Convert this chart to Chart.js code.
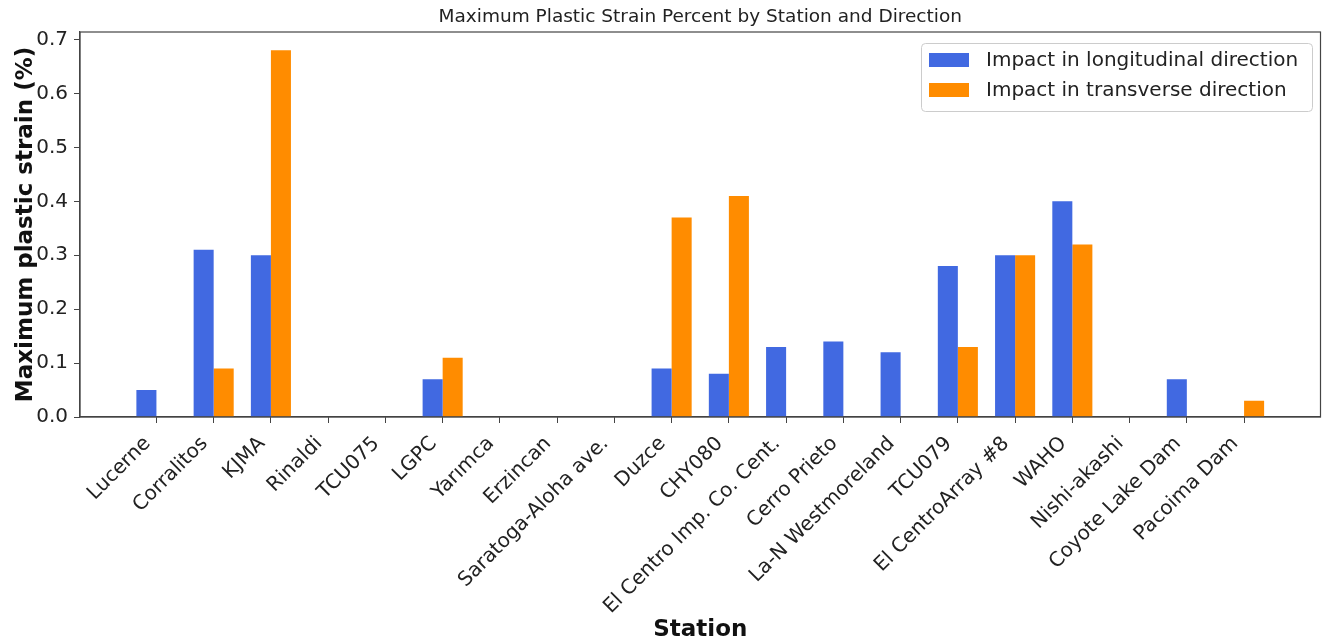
<!DOCTYPE html>
<html>
<head>
<meta charset="utf-8">
<script src="https://cdn.jsdelivr.net/npm/chart.js@4.4.1/dist/chart.umd.min.js"></script>
<style>
  body { margin: 0; background: #fff; }
  #wrap { width: 1325px; height: 644px; }
</style>
</head>
<body>
<div id="wrap"><canvas id="bar-chart" width="1325" height="644"></canvas></div>
<script>
const stations = ["Lucerne", "Corralitos", "KJMA", "Rinaldi", "TCU075", "LGPC", "Yarımca", "Erzincan",
    "Saratoga-Aloha ave.", "Duzce", "CHY080", "El Centro Imp. Co. Cent.", "Cerro Prieto",
    "La-N Westmoreland", "TCU079", "El CentroArray #8", "WAHO", "Nishi-akashi", "Coyote Lake Dam", "Pacoima Dam"];
const longitudinal = [0.05, 0.31, 0.30, 0, 0, 0.07, 0, 0, 0, 0.09, 0.08, 0.13, 0.14, 0.12, 0.28, 0.30, 0.40, 0, 0.07, 0];
const transverse   = [0, 0.09, 0.68, 0, 0, 0.11, 0, 0, 0, 0.37, 0.41, 0, 0, 0, 0.13, 0.30, 0.32, 0, 0, 0.03];
const yTicks = [0, 0.1, 0.2, 0.3, 0.4, 0.5, 0.6, 0.7];

const FONT = "'DejaVu Sans', 'Liberation Sans', sans-serif";

// axes frame (matplotlib style spines)
const framePlugin = {
    id: 'frame',
    afterDatasetsDraw(chart) {
        const {ctx, chartArea: a} = chart;
        ctx.save();
        ctx.strokeStyle = '#444';
        ctx.lineWidth = 1.2;
        ctx.strokeRect(a.left, a.top, a.right - a.left, a.bottom - a.top);
        ctx.restore();
    }
};

// nudge rotated x labels so the text end sits like matplotlib's ha='right'
const labelNudge = {
    id: 'labelNudge',
    afterLayout(chart) {
        const s = chart.scales.x;
        if (s._nudged) return;
        const orig = s.drawLabels.bind(s);
        s.drawLabels = (area) => {
            s.ctx.save();
            s.ctx.translate(-9, 5);
            orig(area);
            s.ctx.restore();
        };
        s._nudged = true;
    }
};

// legend box drawn inside the plot, upper right
const boxLegend = {
    id: 'boxLegend',
    afterDraw(chart) {
        const ctx = chart.ctx;
        const x = 921, y = 43, w = 391, h = 68;
        ctx.save();
        ctx.fillStyle = 'rgba(255,255,255,0.8)';
        ctx.strokeStyle = '#cccccc';
        ctx.lineWidth = 1;
        ctx.beginPath();
        ctx.roundRect(x + 0.5, y + 0.5, w, h, 4);
        ctx.fill();
        ctx.stroke();
        ctx.font = "20px " + FONT;
        ctx.textBaseline = 'middle';
        chart.data.datasets.forEach((ds, i) => {
            const cy = 60 + i * 30;
            ctx.fillStyle = ds.backgroundColor;
            ctx.fillRect(929, cy - 7, 40, 14);
            ctx.fillStyle = '#222';
            ctx.fillText(ds.label, 986, cy + 1);
        });
        ctx.restore();
    }
};

new Chart(document.getElementById("bar-chart"), {
    type: 'bar',
    data: {
        datasets: [{
            label: "Impact in longitudinal direction",
            data: longitudinal.map((v, i) => ({x: i, y: v})),
            backgroundColor: "#4169E1"
        }, {
            label: "Impact in transverse direction",
            data: transverse.map((v, i) => ({x: i, y: v})),
            backgroundColor: "#FF8C00"
        }]
    },
    options: {
        responsive: false,
        animation: false,
        layout: { padding: { left: 0, right: 4.5, top: 0, bottom: 0 } },
        datasets: { bar: { barPercentage: 1.0, categoryPercentage: 0.7 } },
        plugins: {
            legend: { display: false },
            tooltip: { enabled: false },
            title: {
                display: true,
                text: 'Maximum Plastic Strain Percent by Station and Direction',
                fullSize: false,
                color: '#222',
                font: { family: FONT, size: 18.5, weight: 'normal' },
                padding: { top: 6, bottom: 3.8 }
            }
        },
        scales: {
            x: {
                type: 'linear',
                offset: false,
                min: -1.335,
                max: 20.335,
                afterBuildTicks: s => { s.ticks = stations.map((_, i) => ({value: i})); },
                afterFit: s => { s.height = 227; },
                grid: { offset: false, drawOnChartArea: false, drawTicks: true, tickLength: 6, color: '#444' },
                border: { color: '#444', width: 1.2 },
                ticks: {
                    autoSkip: false,
                    maxRotation: 45,
                    minRotation: 45,
                    padding: 4,
                    color: '#222',
                    font: { family: FONT, size: 20 },
                    callback: v => stations[v]
                },
                title: {
                    display: true,
                    text: 'Station',
                    color: '#111',
                    font: { family: FONT, size: 23, weight: 'bold' },
                    padding: { top: 0, bottom: 0 }
                }
            },
            y: {
                min: 0,
                max: 0.714,
                afterBuildTicks: s => { s.ticks = yTicks.map(v => ({value: v})); },
                afterFit: s => { s.width = 80; },
                grid: { drawOnChartArea: false, drawTicks: true, tickLength: 6, color: '#444' },
                border: { color: '#444', width: 1.2 },
                ticks: {
                    padding: 6,
                    color: '#222',
                    font: { family: FONT, size: 20 },
                    callback: v => v.toFixed(1)
                },
                title: {
                    display: true,
                    text: 'Maximum plastic strain (%)',
                    color: '#111',
                    font: { family: FONT, size: 23, weight: 'bold' },
                    padding: { top: 12, bottom: 0 }
                }
            }
        }
    },
    plugins: [framePlugin, labelNudge, boxLegend]
});
</script>
</body>
</html>
